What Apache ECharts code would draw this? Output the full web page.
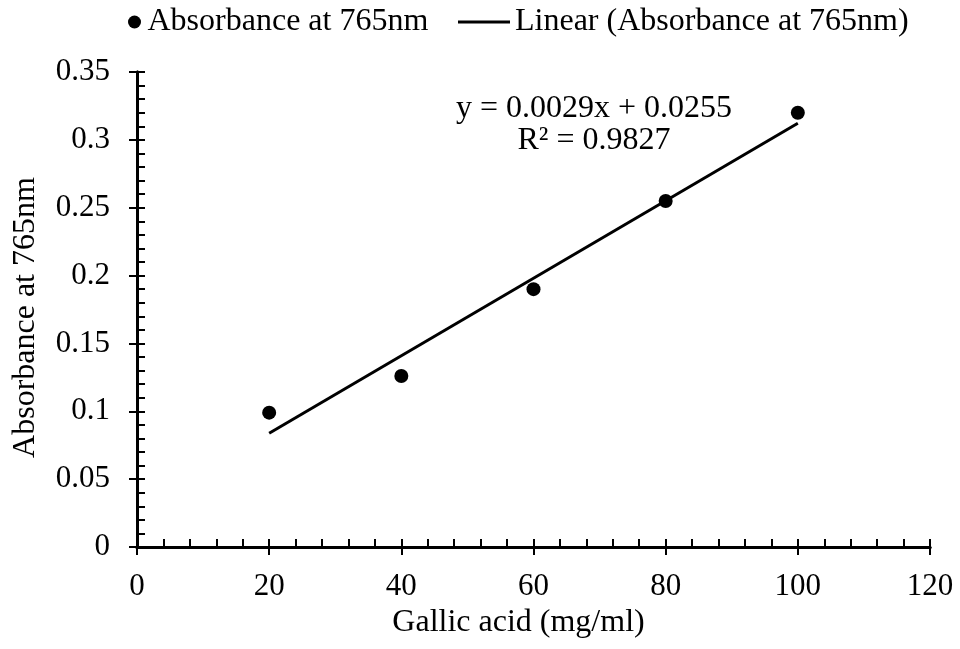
<!DOCTYPE html>
<html>
<head>
<meta charset="utf-8">
<script src="https://cdn.jsdelivr.net/npm/echarts@6/dist/echarts.min.js"></script>
<style>html,body{margin:0;padding:0;background:#fff;}#c{width:960px;height:649px;}</style>
</head>
<body>
<div id="c"></div>
<script>
var xValues = [20, 40, 60, 80, 100];
var absorbance = [0.099, 0.126, 0.190, 0.255, 0.320];
var seriesName = 'Absorbance at 765nm';
var trendName = 'Linear (Absorbance at 765nm)';
var equationText = 'y = 0.0029x + 0.0255';
var r2Text = 'R\u00B2 = 0.9827';
var xTitle = 'Gallic acid (mg/ml)';
var yTitle = 'Absorbance at 765nm';

// least squares trendline from the data
var n = xValues.length, sx = 0, sy = 0, sxx = 0, sxy = 0;
for (var i = 0; i < n; i++) { sx += xValues[i]; sy += absorbance[i]; sxx += xValues[i]*xValues[i]; sxy += xValues[i]*absorbance[i]; }
var slope = (n*sxy - sx*sy) / (n*sxx - sx*sx);
var intercept = (sy - slope*sx) / n;
var xMin = Math.min.apply(null, xValues), xMax = Math.max.apply(null, xValues);
var trend = [[xMin, slope*xMin + intercept], [xMax, slope*xMax + intercept]];
var points = xValues.map(function (x, i) { return [x, absorbance[i]]; });

var FONT = '"Liberation Serif", "Times New Roman", serif';
var chart = echarts.init(document.getElementById('c'));
function xAx(primary) {
  return {
    type: 'value', min: 0, max: 120, interval: 20, position: 'bottom',
    name: primary ? xTitle : '', nameLocation: 'middle', nameGap: 60,
    nameTextStyle: { fontFamily: FONT, fontSize: 32, color: '#000', padding: [0, 30, 0, 0] },
    axisLine: { show: true, onZero: false, lineStyle: { color: '#000', width: 3 } },
    axisTick: { show: true, inside: primary, length: 8, lineStyle: { color: '#000', width: 2 } },
    minorTick: { show: primary, splitNumber: 5, length: 8, lineStyle: { color: '#000', width: 2 } },
    axisLabel: { show: primary, fontFamily: FONT, fontSize: 31, color: '#000', margin: 24 },
    splitLine: { show: false }, minorSplitLine: { show: false }
  };
}
function yAx(primary) {
  return {
    type: 'value', min: 0, max: 0.35, interval: 0.05, position: 'left',
    name: primary ? yTitle : '', nameLocation: 'middle', nameGap: 95, nameRotate: 90,
    nameTextStyle: { fontFamily: FONT, fontSize: 32, color: '#000', padding: [0, 16, 0, 0] },
    axisLine: { show: true, onZero: false, lineStyle: { color: '#000', width: 3 } },
    axisTick: { show: true, inside: primary, length: 8, lineStyle: { color: '#000', width: 2 } },
    minorTick: { show: primary, splitNumber: 5, length: 8, lineStyle: { color: '#000', width: 2 } },
    axisLabel: { show: primary, fontFamily: FONT, fontSize: 31, color: '#000', margin: 27 },
    splitLine: { show: false }, minorSplitLine: { show: false }
  };
}
chart.setOption({
  animation: false,
  backgroundColor: '#fff',
  grid: { left: 137, right: 30, top: 72, bottom: 102, containLabel: false },
  legend: [
    { data: [{ name: seriesName, icon: 'circle' }], left: 128, top: 6, padding: 0,
      itemWidth: 16, itemHeight: 13, textStyle: { fontFamily: FONT, fontSize: 32, color: '#000' } },
    { data: [{ name: trendName, icon: 'rect' }], left: 458, top: 6, padding: 0,
      itemWidth: 52, itemHeight: 3, textStyle: { fontFamily: FONT, fontSize: 32, color: '#000' } }
  ],
  xAxis: [xAx(true), xAx(false)],
  yAxis: [yAx(true), yAx(false)],
  graphic: [
    { type: 'text', x: 594, y: 109, style: { text: equationText, fontFamily: FONT, fontSize: 32, fill: '#000', textAlign: 'center', textVerticalAlign: 'middle' } },
    { type: 'text', x: 594, y: 141, style: { text: r2Text, fontFamily: FONT, fontSize: 32, fill: '#000', textAlign: 'center', textVerticalAlign: 'middle' } }
  ],
  series: [
    { name: trendName, type: 'line', data: trend, xAxisIndex: 0, yAxisIndex: 0, symbol: 'none',
      lineStyle: { color: '#000', width: 3 }, itemStyle: { color: '#000' }, z: 2 },
    { name: seriesName, type: 'scatter', data: points, xAxisIndex: 0, yAxisIndex: 0, symbol: 'circle', symbolSize: 14,
      itemStyle: { color: '#000', opacity: 1 }, z: 3 }
  ]
});
</script>
</body>
</html>
